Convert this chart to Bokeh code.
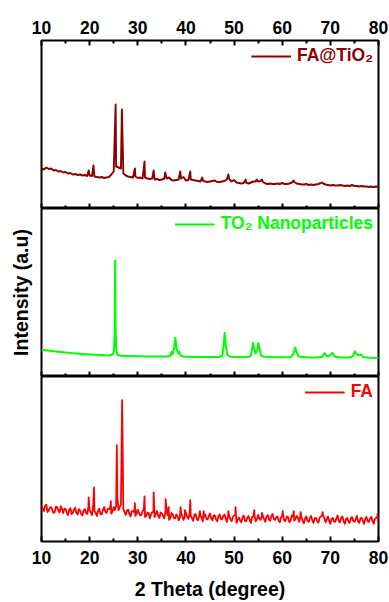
import numpy as np
from bokeh.plotting import figure
from bokeh.layouts import column
from bokeh.models import Range1d, LinearAxis, FixedTicker, CustomLabelingPolicy
from bokeh.embed import file_html
from bokeh.resources import INLINE

FONT = "Liberation Sans"

# x ticks (2θ, degree)
major_ticks = [10, 20, 30, 40, 50, 60, 70, 80]
minor_ticks = [15, 25, 35, 45, 55, 65, 75]

# Noisy patterns are recorded on a 10–80° grid with 0.5° steps (FA also has
# the interleaved 10.25–79.75° points); sharp reflections are listed as
# separate (2θ, counts) points.
SCAN_START, SCAN_STEP, SCAN_POINTS = 10.0, 0.5, 141

# FA@TiO2 (a.u.)
fa_tio2_counts = [
    40, 39, 41, 39.5, 40, 38, 38.5, 37, 37.5, 36,
    36.5, 35, 35.5, 34, 34.5, 33.5, 34, 33, 33.5, 32.5,
    33, 32.5, 32, 31.5, 31, 31.5, 30.5, 31, 31.5, 34,
    37, 42, 41, 40, 35, 33, 32, 31.5, 31, 32,
    30.5, 31, 30, 31, 30, 29.5, 30, 29, 29.5, 28.5,
    29, 30, 30, 31, 28.5, 28, 28.5, 29, 30, 31.5,
    28, 28.5, 29, 28.5, 28, 27.5, 27, 28, 27, 26.5,
    27, 27.5, 28, 26.5, 26.5, 27, 27.5, 29, 29.5, 27,
    28.5, 26, 25.5, 25, 25.5, 26, 25, 26, 27, 27,
    27, 27.5, 26.5, 25, 24.5, 25, 24.5, 24.5, 25, 24.5,
    25.5, 24.5, 24.5, 25, 26, 26.5, 25, 24.5, 24, 24,
    24.5, 23.5, 24, 23.5, 24, 24.5, 25.5, 25, 24, 23.5,
    23, 23.5, 23, 23, 23.5, 23, 22.5, 23, 22.5, 23.5,
    22.5, 22.5, 22, 22.5, 22, 22, 21.5, 22, 21.5, 22,
    21.5,
]
fa_tio2_peak_theta = [19.8, 20.8, 25.4, 26.7, 29.4, 31.4, 33.3, 35.7, 38.8,
                      40.9, 43.4, 48.8, 52.4, 54.7, 55.8, 62.4, 68.2]
fa_tio2_peak_counts = [38, 43, 104, 99, 40, 47, 38, 36, 37,
                       37, 31, 34, 29, 29, 29, 28, 26]

# TiO2 nanoparticles (a.u.)
tio2_theta = [10, 11, 12, 13, 14, 15, 16, 17, 18, 19, 20, 21, 22, 23, 24,
              24.8, 25.05, 25.2, 25.3, 25.4, 25.55, 25.8, 26.3, 27, 28, 30, 32, 34, 36,
              36.7, 37.0, 37.2, 37.5, 37.8, 38.1, 38.4, 38.6, 38.9, 39.5,
              41, 43, 45, 47, 47.6, 47.9, 48.05, 48.3, 48.6, 49.2, 51, 53,
              53.5, 53.8, 53.95, 54.2, 54.5, 54.8, 55.05, 55.3, 55.6, 56.2,
              58, 60, 61.8, 62.3, 62.7, 63.0, 63.4, 65, 67,
              68.3, 68.8, 69.3, 69.8, 70.4, 70.9, 72, 74,
              74.7, 75.1, 75.6, 76.1, 76.4, 76.8, 78, 80]
tio2_counts = [26.5, 26.2, 25.6, 25.1, 24.6, 24.0, 23.6, 23.1, 22.7, 22.3, 22.0, 21.7, 21.4, 21.2, 21.0,
               22, 26, 45, 116, 45, 26, 21.5, 21, 20.6, 20.4, 20.2, 20.0, 19.9, 19.9,
               20.5, 24.5, 22, 27, 38.7, 27, 23, 25, 21, 19.8,
               19.7, 19.6, 19.5, 19.6, 21, 35, 43.5, 30, 21.5, 19.8, 19.5, 19.6,
               21, 30, 33.7, 27, 23, 27, 33.3, 28, 21, 19.7,
               19.4, 19.3, 19.6, 22.5, 29, 24, 20, 19.2, 19.1,
               19.6, 23.5, 20.2, 20.5, 23.7, 20, 19.0, 19.0,
               20.5, 25.3, 21.5, 21.8, 22, 19.5, 18.8, 18.5]

# FA (a.u.), points at 10.0, 10.5, ... 80.0
fa_counts = [
    37, 31, 37.5, 31.5, 35, 29, 35.5, 31.5, 36, 29,
    33, 27, 34, 29, 34.5, 27.5, 31.5, 26.5, 33, 28,
    32, 27, 31, 26, 33.5, 27.5, 35, 29, 33.5, 28.5,
    35, 36, 32, 38, 33, 27, 32.5, 25.5, 31, 26,
    32.5, 26.5, 31, 25, 29.5, 23.5, 30, 25, 31, 24,
    28.5, 23.5, 29.5, 22, 29, 24, 27.5, 21.5, 28.5, 22,
    29, 23, 26, 21, 28, 21.5, 26.5, 20.5, 27.5, 22.5,
    28.5, 21.5, 26.5, 20.5, 27.5, 22.5, 27.5, 20, 26, 20.5,
    26.5, 19, 24.5, 19.5, 26.5, 20.5, 26, 19, 25.5, 20.5,
    27, 22, 26, 20, 27, 21, 28, 22, 25.5, 19.5,
    26.5, 20.5, 25.5, 19.5, 26.5, 21, 26, 20, 25, 18.5,
    25.5, 20, 26, 19, 24, 19, 25.5, 27, 19.5, 25.5,
    18, 24, 20, 26.5, 19.5, 25.5, 18, 24, 19, 25,
    20, 26, 19, 24, 18, 25, 20, 25, 18, 24,
    21,
]
# FA (a.u.), points at 10.25, 10.75, ... 79.75
fa_counts_mid = [
    33, 36, 30, 34.5, 32, 30, 35, 29.5, 33, 33.5,
    29.5, 32, 28, 32.5, 29, 33, 28, 31.5, 29, 36,
    29.5, 38, 29, 31.5, 28, 32, 30.5, 33, 33, 30.5,
    32, 45, 35, 144, 30, 31.5, 28, 31, 30, 28.5,
    29, 27, 32, 26, 29, 27.5, 30, 28, 26, 29.5,
    26, 30, 27, 24, 27.5, 23.5, 26, 24.5, 26, 25,
    25.5, 28, 24, 27, 23, 26, 24.5, 25, 23, 26,
    23.5, 26.5, 22.5, 25.5, 23, 26, 23.5, 26, 22.5, 25,
    27, 22, 21.5, 24.5, 21, 24, 22, 25, 26, 22.5,
    23.5, 25, 22.5, 25.5, 22.5, 26, 23, 24.5, 21.5, 24.5,
    25, 22, 24.5, 21.5, 25.5, 23, 24.5, 25, 21, 23.5,
    21, 24, 21.5, 23.5, 21, 24, 26, 24, 22.5, 21,
    23, 20.5, 23.5, 21, 24, 21, 22.5, 20.5, 23.5, 21,
    22.5, 20.5, 23.5, 21, 23, 20.5, 23.5, 21, 23, 25,
]
fa_peak_theta = [19.8, 20.9, 24.4, 25.65, 29.4, 31.4, 33.3, 35.8, 36.4, 38.9, 39.8,
                 40.9, 42.9, 43.7, 48.8, 50.3, 54.2, 55.8, 60.1, 62.4, 63.8, 68.4, 79.8]
fa_peak_counts = [45, 55, 41, 98, 39, 46, 50, 43, 35, 35, 32,
                  42, 31, 31, 31, 35, 32, 29, 31, 31, 30, 30, 28]


def scan_grid(start, n):
    return start + SCAN_STEP * np.arange(n)


def merge_points(*parts):
    theta = np.concatenate([np.asarray(t, float) for t, _ in parts])
    counts = np.concatenate([np.asarray(c, float) for _, c in parts])
    order = np.argsort(theta, kind="stable")
    return theta[order], counts[order]


# tick marks only, no tick labels (inner panel edges)
NO_LABELS = CustomLabelingPolicy(code="for (const i of indices) { if (i < 0) { yield i } }")


def style_x_axis(ax, show_labels):
    ax.ticker = FixedTicker(ticks=major_ticks, minor_ticks=minor_ticks)
    ax.axis_line_color = None
    ax.major_tick_in = 5
    ax.major_tick_out = 0
    ax.minor_tick_in = 3
    ax.minor_tick_out = 0
    ax.major_tick_line_width = 2
    ax.minor_tick_line_width = 2
    ax.major_tick_line_color = "black"
    ax.minor_tick_line_color = "black"
    if show_labels:
        ax.major_label_text_font = FONT
        ax.major_label_text_font_style = "bold"
        ax.major_label_text_font_size = "17.5px"
        ax.major_label_text_color = "black"
        ax.major_label_standoff = 7
    else:
        ax.major_label_policy = NO_LABELS
        ax.major_label_text_font_size = "0px"
        ax.major_label_standoff = 0


def make_panel(height, border_top, border_bottom, theta, counts, color, lw, label):
    p = figure(width=389, height=height,
               x_range=Range1d(10, 80), y_range=Range1d(0, 168),
               output_backend="svg", toolbar_location=None,
               min_border_left=41, min_border_right=11,
               min_border_top=border_top, min_border_bottom=border_bottom)
    p.xgrid.visible = False
    p.ygrid.visible = False
    p.background_fill_color = "white"
    p.border_fill_color = "white"
    p.outline_line_color = "black"
    p.outline_line_width = 2
    p.outline_line_alpha = 1
    p.line(theta, counts, line_color=color, line_width=lw, line_join="round",
           legend_label=label)
    leg = p.legend[0]
    leg.location = "top_right"
    leg.margin = 5
    leg.padding = 0
    leg.spacing = 0
    leg.glyph_width = 40
    leg.label_standoff = 6
    leg.background_fill_alpha = 0
    leg.border_line_alpha = 0
    leg.label_text_font = FONT
    leg.label_text_font_style = "bold"
    leg.label_text_font_size = "17.5px"
    leg.label_text_color = color
    p.yaxis.visible = False
    return p


x1, y1 = merge_points((scan_grid(SCAN_START, SCAN_POINTS), fa_tio2_counts),
                      (fa_tio2_peak_theta, fa_tio2_peak_counts))
x3, y3 = merge_points((scan_grid(SCAN_START, SCAN_POINTS), fa_counts),
                      (scan_grid(SCAN_START + SCAN_STEP / 2, SCAN_POINTS - 1), fa_counts_mid),
                      (fa_peak_theta, fa_peak_counts))

top = make_panel(208, 40, 0, x1, y1, "#8b0000", 1.9, "FA@TiO₂")
style_x_axis(top.xaxis[0], False)
top_axis = LinearAxis()
top.add_layout(top_axis, "above")
style_x_axis(top_axis, True)
top_axis.major_label_standoff = 7

mid = make_panel(168, 0, 0, tio2_theta, tio2_counts, "#00ff00", 2.0, "TO₂ Nanoparticles")
style_x_axis(mid.xaxis[0], False)
mid.yaxis.visible = True
yax = mid.yaxis[0]
yax.ticker = FixedTicker(ticks=[])
yax.axis_line_color = None
yax.major_tick_line_color = None
yax.minor_tick_line_color = None
yax.major_label_standoff = 0
yax.axis_label = "Intensity (a.u)"
yax.axis_label_text_font = FONT
yax.axis_label_text_font_style = "bold"
yax.axis_label_text_font_size = "19.5px"
yax.axis_label_text_color = "black"
yax.axis_label_standoff = 10

bot = make_panel(226, 0, 58, x3, y3, "#ff0000", 1.8, "FA")
style_x_axis(bot.xaxis[0], True)
bax = bot.xaxis[0]
bax.major_label_standoff = 9
bax.axis_label = "2 Theta (degree)"
bax.axis_label_text_font = FONT
bax.axis_label_text_font_style = "bold"
bax.axis_label_text_font_size = "19.5px"
bax.axis_label_text_color = "black"
bax.axis_label_standoff = 11

layout = column(top, mid, bot)

with open("out.html", "w") as f:
    f.write(file_html(layout, INLINE))
